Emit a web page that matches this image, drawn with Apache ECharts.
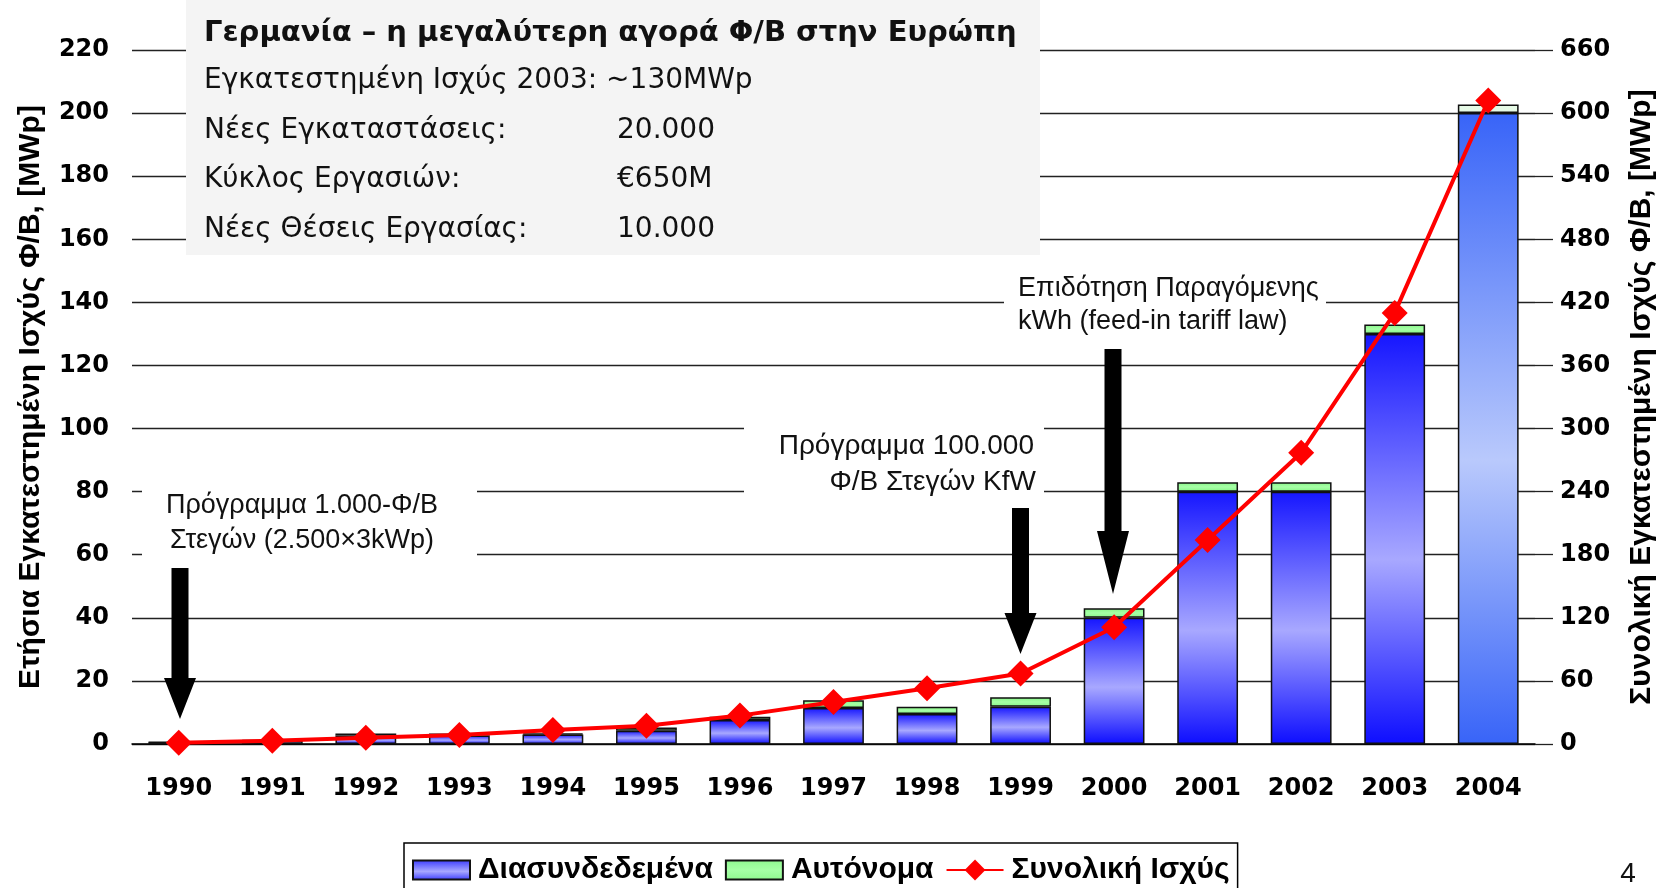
<!DOCTYPE html>
<html>
<head>
<meta charset="utf-8">
<title>Γερμανία – Φ/Β</title>
<script src="https://cdn.jsdelivr.net/npm/echarts@6/dist/echarts.min.js"></script>
<style>
  html, body { margin: 0; padding: 0; background: #fff; }
  #chart { width: 1667px; height: 888px; }
</style>
</head>
<body>
<div id="chart"></div>
<script>
const years = ['1990', '1991', '1992', '1993', '1994', '1995', '1996', '1997',
  '1998', '1999', '2000', '2001', '2002', '2003', '2004'];
// annual installed, MWp (left axis)
const gridConnected = [0.5, 1.0, 2.7, 2.7, 3.0, 4.2, 7.6, 11.4, 9.5, 11.8, 40, 80, 80, 130, 200];
const standalone = [0.1, 0.2, 0.6, 0.6, 0.4, 1.0, 1.0, 2.5, 2.3, 3.0, 3.0, 3.0, 3.0, 3.0, 2.7];
// cumulative, MWp (right axis)
const totalPower = [1.2, 3.2, 6, 8.6, 13.3, 17.4, 27, 40, 53, 67, 111, 194, 277, 410, 612];

const leftTicks = { min: 0, max: 220, interval: 20 };
const rightTicks = { min: 0, max: 660, interval: 60 };

const seriesNames = ['Διασυνδεδεμένα', 'Αυτόνομα', 'Συνολική Ισχύς'];
const leftAxisName = 'Ετήσια Εγκατεστημένη Ισχύς Φ/Β, [MWp]';
const rightAxisName = 'Συνολική Εγκατεστημένη Ισχύς Φ/Β, [MWp]';

const boxTitle = 'Γερμανία – η μεγαλύτερη αγορά Φ/Β στην Ευρώπη';
const boxRows = [
  ['Εγκατεστημένη Ισχύς 2003: ~130MWp', ''],
  ['Νέες Εγκαταστάσεις:', '20.000'],
  ['Κύκλος Εργασιών:', '€650M'],
  ['Νέες Θέσεις Εργασίας:', '10.000']
];
const notes = {
  kfw1000: ['Πρόγραμμα 1.000-Φ/Β', 'Στεγών (2.500×3kWp)'],
  kfw100k: ['Πρόγραμμα 100.000', 'Φ/Β Στεγών KfW'],
  feedIn: ['Επιδότηση Παραγόμενης', 'kWh (feed-in tariff law)']
};

function vGrad(stops) {
  return {
    type: 'linear', x: 0, y: 0, x2: 0, y2: 1,
    colorStops: stops.map(([offset, color]) => ({ offset, color }))
  };
}

const blueFill = vGrad([[0, '#1616ff'], [0.55, '#a8a8ff'], [1, '#0e0eff']]);
const blueFillLast = vGrad([[0, '#3864f8'], [0.55, '#b9c9fc'], [1, '#3864f8']]);
const greenFill = vGrad([[0, '#86f586'], [0.5, '#a6ffa6'], [1, '#86f586']]);
const barBorder = { borderColor: '#111', borderWidth: 1.5 };

// legend swatch: a 57x19 box inside a 57x26 cell (the stray moves pad the bounds)
const swatchIcon = 'path://M0,0M0,3.5L57,3.5L57,22.5L0,22.5ZM57,26';

const font = (size, bold, family) =>
  `${bold ? 'bold ' : ''}${size}px "${family || 'Liberation Sans'}"`;

function text(x, y, str, opts = {}) {
  const align = opts.align || 'left';
  return {
    type: 'text',
    z: 100,
    style: {
      x, y, text: str,
      fill: opts.color || '#111',
      font: opts.font || font(26),
      textAlign: align, align,
      textVerticalAlign: 'middle', verticalAlign: 'middle'
    }
  };
}

function arrow(cx, top, base, tip) {
  const sw = 8.5;
  const hw = 16;
  return {
    type: 'polygon',
    z: 100,
    shape: {
      points: [[cx - sw, top], [cx + sw, top], [cx + sw, base], [cx + hw, base],
        [cx, tip], [cx - hw, base], [cx - sw, base]]
    },
    style: { fill: '#000' }
  };
}

function whiteBox(x, y, w, h) {
  return { type: 'rect', z: 90, shape: { x, y, width: w, height: h }, style: { fill: '#fff' } };
}

const graphics = [
  { type: 'rect', z: 90, shape: { x: 186, y: 0, width: 854, height: 255 }, style: { fill: '#f4f4f4' } },
  text(204, 33, boxTitle, { font: font(29, true, 'DejaVu Sans') })
];
boxRows.forEach((row, i) => {
  const y = 81 + i * 49.5;
  graphics.push(text(204, y, row[0], { font: font(28, false, 'DejaVu Sans') }));
  if (row[1]) graphics.push(text(617, y, row[1], { font: font(28, false, 'DejaVu Sans') }));
});

graphics.push(
  whiteBox(142, 484, 335, 78),
  text(302, 506, notes.kfw1000[0], { align: 'center', font: font(27) }),
  text(302, 541, notes.kfw1000[1], { align: 'center', font: font(27) }),
  whiteBox(744, 420, 300, 80),
  text(1034, 446, notes.kfw100k[0], { align: 'right', font: font(28) }),
  text(1036, 482, notes.kfw100k[1], { align: 'right', font: font(28) }),
  whiteBox(1004, 272, 322, 64),
  text(1018, 289, notes.feedIn[0], { font: font(27) }),
  text(1018, 322, notes.feedIn[1], { font: font(27) }),
  arrow(180, 568, 678, 719),
  arrow(1020.5, 508, 613, 654),
  arrow(1113, 349, 531, 594),
  text(1628, 874, '4', { font: font(28), align: 'center' })
);

const tickLabel = { fontFamily: 'DejaVu Sans', fontWeight: 'bold', fontSize: 24, color: '#000' };
const nameStyle = { fontFamily: 'Liberation Sans', fontWeight: 'bold', fontSize: 30, color: '#000' };

const chart = echarts.init(document.getElementById('chart'));
chart.setOption({
  animation: false,
  backgroundColor: '#fff',
  grid: { left: 132, right: 132, top: 50, bottom: 144 },
  legend: {
    data: [
      { name: seriesNames[0], icon: swatchIcon },
      { name: seriesNames[1], icon: swatchIcon },
      { name: seriesNames[2] }
    ],
    left: 404,
    top: 843,
    padding: [12, 8, 8, 8],
    itemGap: 12,
    itemWidth: 57,
    itemHeight: 26,
    borderColor: '#000',
    borderWidth: 1.5,
    textStyle: { fontFamily: 'Liberation Sans', fontWeight: 'bold', fontSize: 30, color: '#000', padding: [0, 0, 0, 3] }
  },
  xAxis: {
    type: 'category',
    data: years,
    axisTick: { show: false },
    axisLine: { lineStyle: { color: '#000', width: 1.5 } },
    axisLabel: Object.assign({ margin: 33 }, tickLabel)
  },
  yAxis: [
    {
      type: 'value',
      min: leftTicks.min, max: leftTicks.max, interval: leftTicks.interval,
      name: leftAxisName,
      nameLocation: 'middle',
      nameGap: 86,
      nameTextStyle: nameStyle,
      axisLine: { show: false },
      axisTick: { show: false },
      axisLabel: Object.assign({ margin: 23 }, tickLabel),
      splitLine: { lineStyle: { color: '#222', width: 1.3 } }
    },
    {
      type: 'value',
      position: 'right',
      min: rightTicks.min, max: rightTicks.max, interval: rightTicks.interval,
      name: rightAxisName,
      nameLocation: 'middle',
      nameGap: 92,
      nameRotate: 90,
      nameTextStyle: nameStyle,
      axisLine: { show: false },
      axisTick: { show: true, length: 18, lineStyle: { color: '#222', width: 1.3 } },
      axisLabel: Object.assign({ margin: 25 }, tickLabel),
      splitLine: { show: false }
    }
  ],
  series: [
    {
      name: seriesNames[0],
      type: 'bar',
      stack: 'annual',
      barWidth: '65%',
      itemStyle: Object.assign({ color: blueFill }, barBorder),
      data: gridConnected.map((v, i) => i === years.length - 1
        ? { value: v, itemStyle: { color: blueFillLast } }
        : v)
    },
    {
      name: seriesNames[1],
      type: 'bar',
      stack: 'annual',
      itemStyle: Object.assign({ color: greenFill }, barBorder),
      data: standalone.map((v, i) => i === years.length - 1
        ? { value: v, itemStyle: { color: '#e6fae6' } }
        : v)
    },
    {
      name: seriesNames[2],
      type: 'line',
      yAxisIndex: 1,
      z: 5,
      symbol: 'diamond',
      symbolSize: 26,
      lineStyle: { color: '#ff0000', width: 4 },
      itemStyle: { color: '#ff0000' },
      data: totalPower
    }
  ],
  graphic: graphics
});
</script>
</body>
</html>
